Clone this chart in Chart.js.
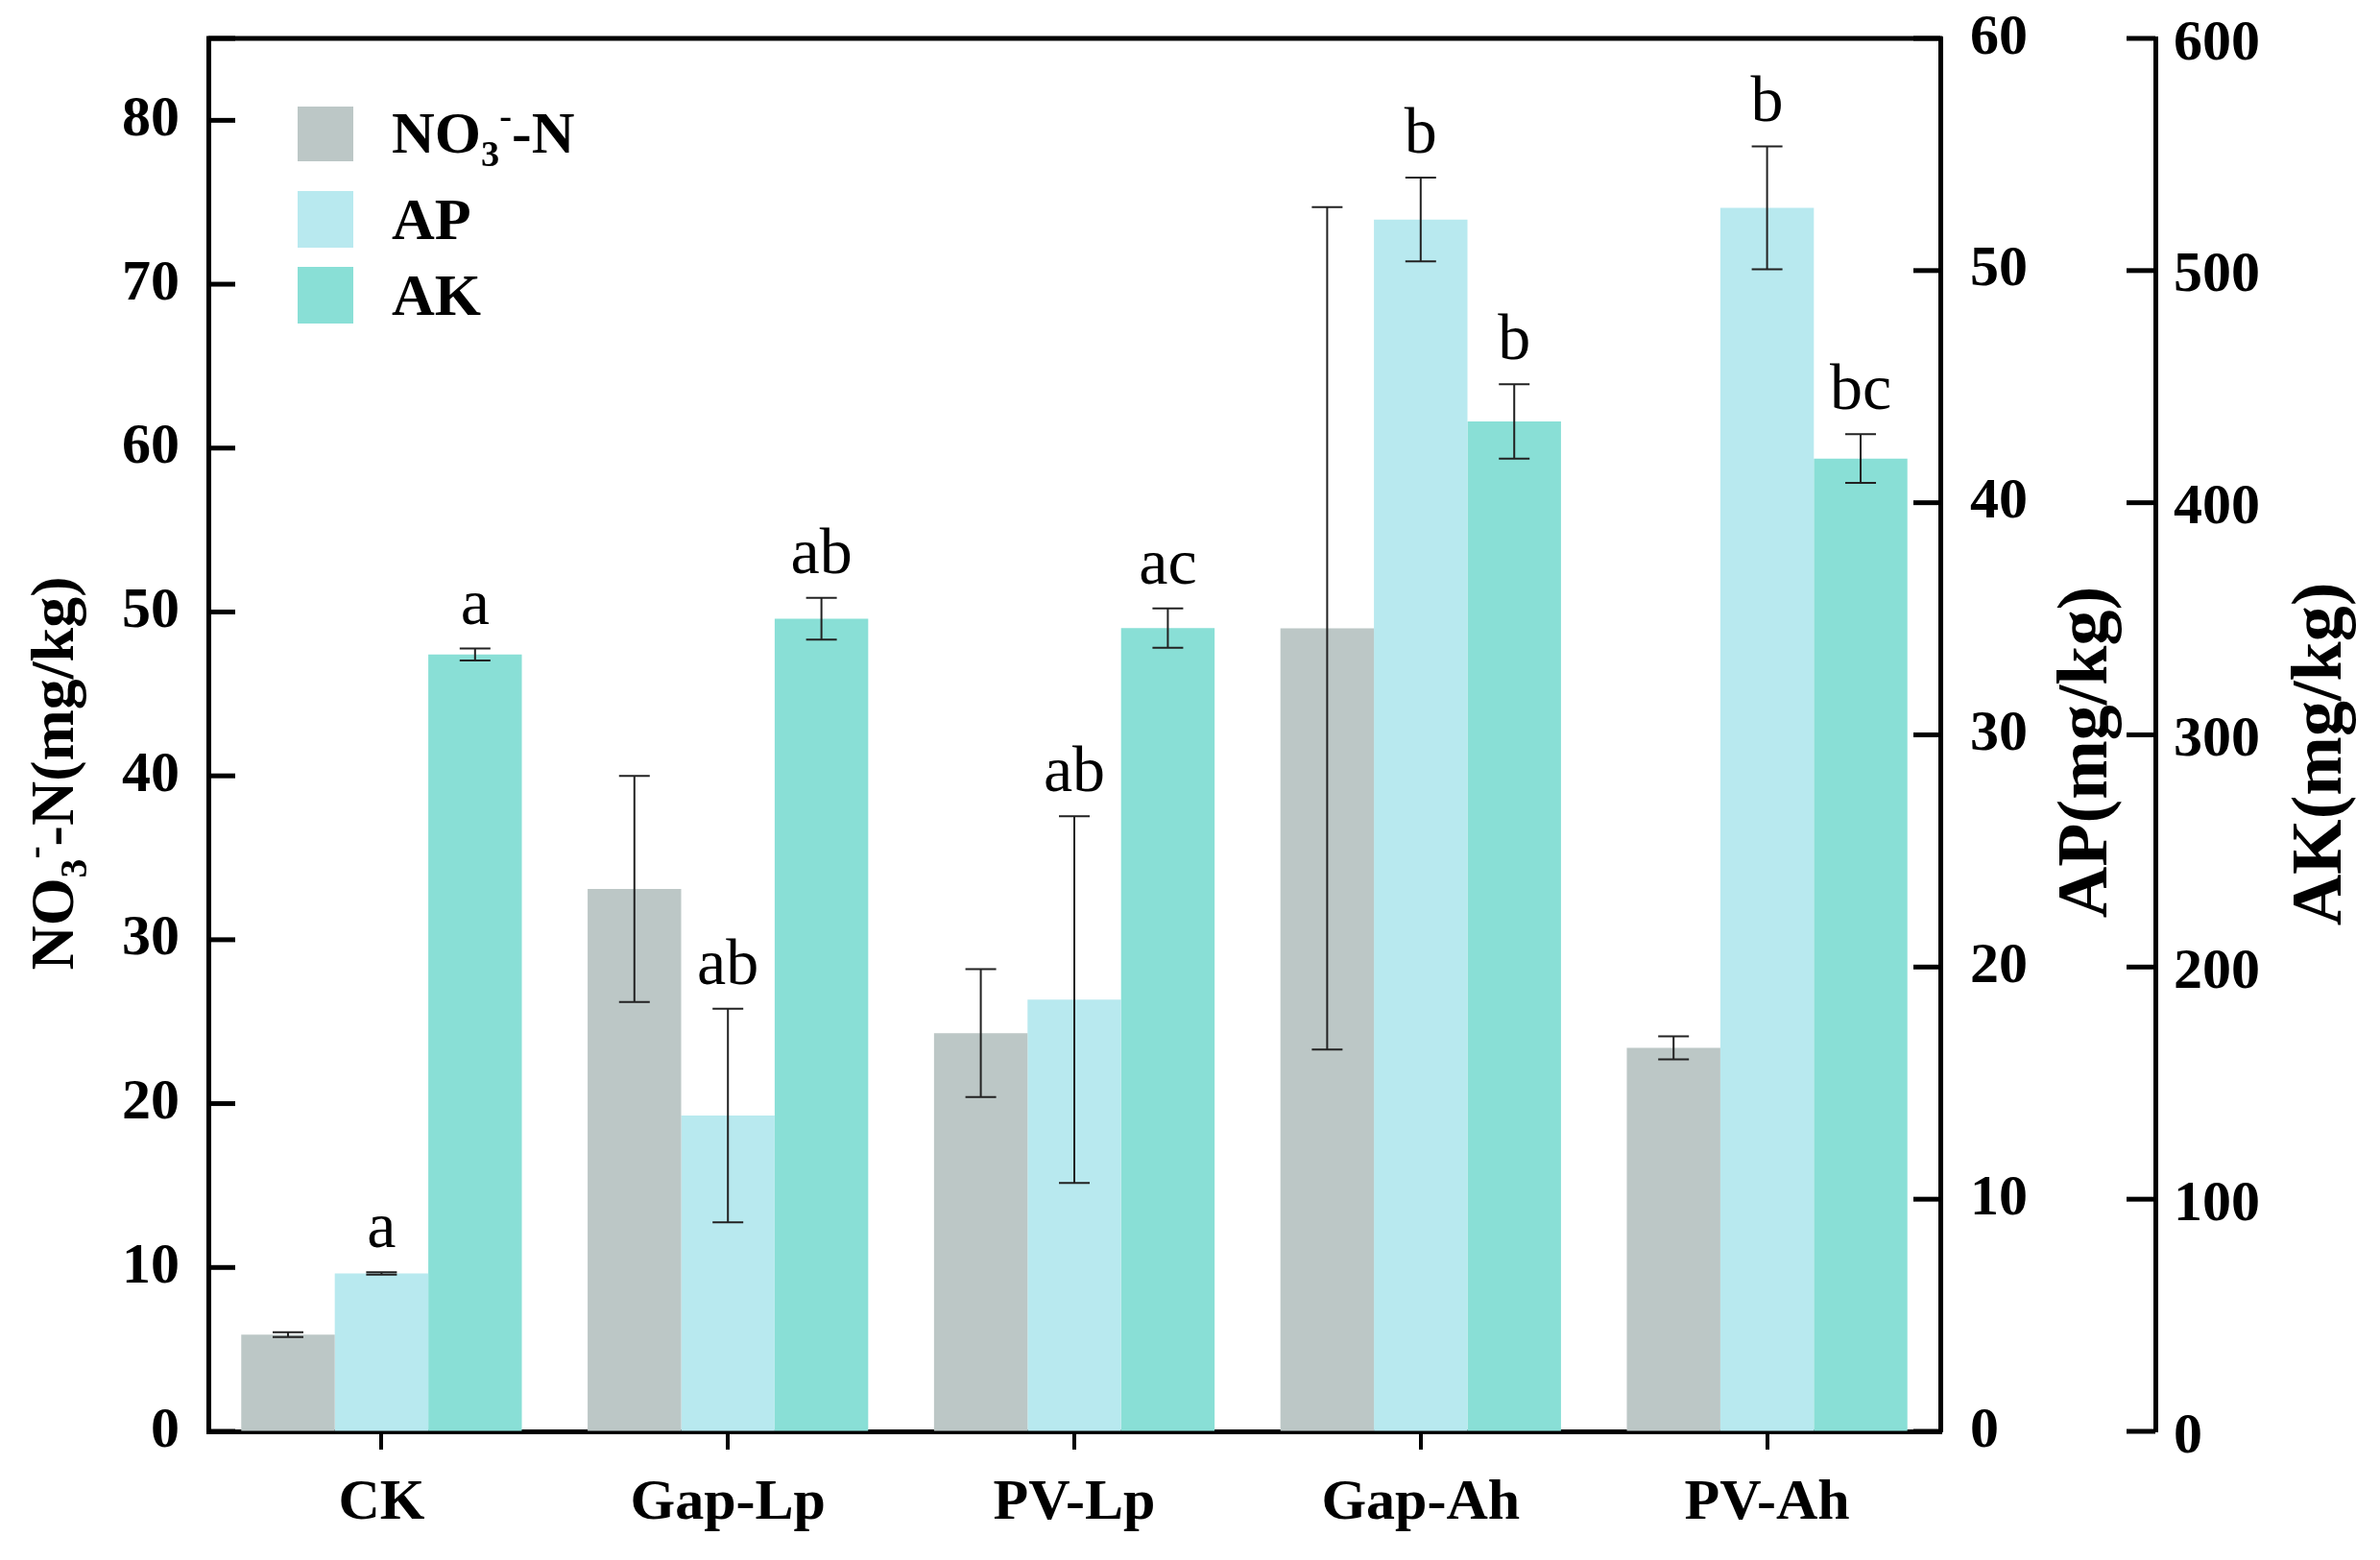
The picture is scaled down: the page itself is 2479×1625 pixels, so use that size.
<!DOCTYPE html>
<html><head><meta charset="utf-8">
<script src="https://cdn.jsdelivr.net/npm/chart.js@4.4.1/dist/chart.umd.min.js"></script>
<style>html,body{margin:0;padding:0;background:#fff;}canvas{display:block;}</style>
</head><body>
<canvas id="c" width="2479" height="1625"></canvas>
<script>
const categories = ['CK', 'Gap-Lp', 'PV-Lp', 'Gap-Ah', 'PV-Ah'];
const no3Values = [5.9, 33.1, 24.3, 49.0, 23.4];
const no3Errors = [0.15, 6.9, 3.9, 25.7, 0.7];
const apValues = [6.8, 13.6, 18.6, 52.2, 52.7];
const apErrors = [0.05, 4.6, 7.9, 1.8, 2.65];
const akValues = [334.6, 350, 346, 435, 419];
const akErrors = [2.6, 9, 8.5, 16, 10.5];
const apLetters = ['a', 'ab', 'ab', 'b', 'b'];
const akLetters = ['a', 'ab', 'ac', 'b', 'bc'];
const seriesNames = ['NO3-N', 'AP', 'AK'];
const colors = ['#BCC7C6', '#B8E9EF', '#89DFD6'];

const FAMILY = "'Liberation Serif', 'Times New Roman', serif";
Chart.defaults.font.family = FAMILY;
Chart.defaults.color = '#000';

function drawRich(ctx, segs, x, y, size, align) {
  const measure = [];
  let total = 0;
  segs.forEach(s => {
    const sz = (s.sub || s.sup) ? size * 0.62 : size;
    ctx.font = 'bold ' + sz + 'px ' + FAMILY;
    const w = ctx.measureText(s.t).width;
    measure.push({ s, sz, w });
    total += w;
  });
  let cx = align === 'center' ? x - total / 2 : x;
  ctx.textBaseline = 'alphabetic';
  ctx.textAlign = 'left';
  measure.forEach(m => {
    ctx.font = 'bold ' + m.sz + 'px ' + FAMILY;
    let dy = 0;
    if (m.s.sub) dy = size * 0.22;
    if (m.s.sup) dy = -size * 0.42;
    ctx.fillText(m.s.t, cx, y + dy);
    cx += m.w;
  });
}

const no3Segs = [{ t: 'NO' }, { t: '3', sub: true }, { t: '-', sup: true }, { t: '-N' }];

const overlay = {
  id: 'overlay',
  afterDatasetsDraw(chart) {
    const ctx = chart.ctx;
    const sets = [
      [0, no3Errors, 'y', null],
      [1, apErrors, 'yAP', apLetters],
      [2, akErrors, 'yAK', akLetters]
    ];
    ctx.save();
    sets.forEach(([di, errs, sid, letters]) => {
      const meta = chart.getDatasetMeta(di);
      const scale = chart.scales[sid];
      const data = chart.data.datasets[di].data;
      meta.data.forEach((bar, j) => {
        const v = data[j], e = errs[j];
        const yt = scale.getPixelForValue(v + e);
        const yb = scale.getPixelForValue(v - e);
        const x = bar.x;
        ctx.strokeStyle = '#222';
        ctx.lineWidth = 2;
        ctx.beginPath();
        ctx.moveTo(x, yt); ctx.lineTo(x, yb);
        ctx.moveTo(x - 16, yt); ctx.lineTo(x + 16, yt);
        ctx.moveTo(x - 16, yb); ctx.lineTo(x + 16, yb);
        ctx.stroke();
        if (letters) {
          ctx.fillStyle = '#000';
          ctx.font = '68px ' + FAMILY;
          ctx.textAlign = 'center';
          ctx.textBaseline = 'alphabetic';
          ctx.fillText(letters[j], x, yt - 26);
        }
      });
    });
    ctx.restore();
  },
  afterDraw(chart) {
    const ctx = chart.ctx;
    const ca = chart.chartArea;
    ctx.save();
    ctx.strokeStyle = '#000';
    ctx.lineWidth = 5;
    ctx.beginPath();
    ctx.moveTo(ca.left - 2, ca.top);
    ctx.lineTo(ca.right + 2, ca.top);
    ctx.stroke();
    const tl = 28;
    const yS = chart.scales.y, apS = chart.scales.yAP, akS = chart.scales.yAK;
    yS.ticks.forEach(t => {
      const p = yS.getPixelForValue(t.value);
      ctx.beginPath(); ctx.moveTo(ca.left, p); ctx.lineTo(ca.left + tl, p); ctx.stroke();
    });
    apS.ticks.forEach(t => {
      const p = apS.getPixelForValue(t.value);
      ctx.beginPath(); ctx.moveTo(ca.right, p); ctx.lineTo(ca.right - tl, p); ctx.stroke();
    });
    akS.ticks.forEach(t => {
      const p = akS.getPixelForValue(t.value);
      ctx.beginPath(); ctx.moveTo(akS.left, p); ctx.lineTo(akS.left - tl - 2, p); ctx.stroke();
    });
    // legend
    const lx = ca.left + 93, lw = 58;
    const rows = [ca.top + 71, ca.top + 159, ca.top + 238];
    const rowH = [57, 59, 59];
    chart.data.datasets.forEach((ds, i) => {
      ctx.fillStyle = ds.backgroundColor;
      ctx.fillRect(lx, rows[i], lw, rowH[i]);
      ctx.fillStyle = '#000';
      const base = rows[i] + 50;
      if (i === 0) drawRich(ctx, no3Segs, lx + 98, base - 2, 62, 'left');
      else drawRich(ctx, [{ t: ds.label }], lx + 98, base, 62, 'left');
    });
    // axis titles
    ctx.fillStyle = '#000';
    const cy = (ca.top + ca.bottom) / 2;
    ctx.save();
    ctx.translate(76, cy + 40);
    ctx.rotate(-Math.PI / 2);
    drawRich(ctx, no3Segs.concat([{ t: '(mg/kg)' }]), 0, 0, 64, 'center');
    ctx.restore();
    ctx.save();
    ctx.translate(2194, cy + 18);
    ctx.rotate(-Math.PI / 2);
    drawRich(ctx, [{ t: 'AP(mg/kg)' }], 0, 0, 74, 'center');
    ctx.restore();
    ctx.save();
    ctx.translate(2438, cy + 20);
    ctx.rotate(-Math.PI / 2);
    drawRich(ctx, [{ t: 'AK(mg/kg)' }], 0, 0, 74, 'center');
    ctx.restore();
    ctx.restore();
  }
};

const tickFont = { size: 60, weight: 'bold', family: FAMILY };
const borderOpt = { display: true, color: '#000', width: 5 };
function zeroPad(s) { s.paddingTop = 0; s.paddingBottom = 0; s.paddingLeft = 0; s.paddingRight = 0; }

new Chart(document.getElementById('c'), {
  type: 'bar',
  data: {
    labels: categories,
    datasets: [
      { label: seriesNames[0], data: no3Values, backgroundColor: colors[0], yAxisID: 'y' },
      { label: seriesNames[1], data: apValues, backgroundColor: colors[1], yAxisID: 'yAP' },
      { label: seriesNames[2], data: akValues, backgroundColor: colors[2], yAxisID: 'yAK' }
    ]
  },
  options: {
    responsive: false,
    animation: false,
    devicePixelRatio: 1,
    categoryPercentage: 0.81,
    barPercentage: 1.0,
    layout: { padding: { top: 40, left: 0, right: 0, bottom: 0 } },
    plugins: { legend: { display: false }, tooltip: { enabled: false } },
    scales: {
      x: {
        position: 'bottom',
        grid: { display: true, drawOnChartArea: false, drawTicks: true, tickLength: 19, color: '#000', lineWidth: 4, offset: false },
        border: borderOpt,
        ticks: { font: tickFont, color: '#000', padding: 20, maxRotation: 0 },
        afterFit(s) { s.height = 134; zeroPad(s); }
      },
      y: {
        position: 'left', min: 0, max: 85,
        grid: { display: true, drawOnChartArea: false, drawTicks: false },
        border: borderOpt,
        ticks: { stepSize: 10, font: tickFont, color: '#000', padding: 30,
          callback: (v) => (v % 10 === 0 ? v : '') },
        afterFit(s) { s.width = 217; zeroPad(s); }
      },
      yAP: {
        position: 'right', min: 0, max: 60, weight: 0,
        grid: { display: true, drawOnChartArea: false, drawTicks: false },
        border: borderOpt,
        ticks: { stepSize: 10, font: tickFont, color: '#000', padding: 31 },
        afterFit(s) { s.width = 224; zeroPad(s); }
      },
      yAK: {
        position: 'right', min: 0, max: 600, weight: 1,
        grid: { display: true, drawOnChartArea: false, drawTicks: false },
        border: borderOpt,
        ticks: { stepSize: 100, font: tickFont, color: '#000', padding: 19, labelOffset: 6 },
        afterFit(s) { s.width = 234; zeroPad(s); }
      }
    }
  },
  plugins: [overlay]
});
</script>
</body></html>
